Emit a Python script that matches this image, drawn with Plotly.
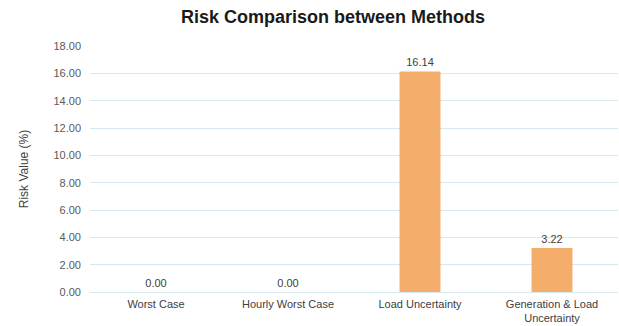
import plotly.graph_objects as go

categories = ["Worst Case", "Hourly Worst Case", "Load Uncertainty", "Generation & Load<br>Uncertainty"]
risk_values = [0.00, 0.00, 16.14, 3.22]
y_ticks = [0, 2, 4, 6, 8, 10, 12, 14, 16, 18]

font_family = "Liberation Sans, Arial, sans-serif"
grid_color = "#D6E8EF"

fig = go.Figure(
    go.Bar(
        x=categories,
        y=risk_values,
        marker=dict(color="#F5AD6C", line=dict(width=0)),
        text=[f"{v:.2f}" for v in risk_values],
        textposition="outside",
        textfont=dict(size=11, color="#404040", family=font_family),
        cliponaxis=False,
    )
)

fig.update_layout(
    width=619,
    height=326,
    margin=dict(l=90, r=1, t=46, b=34),
    paper_bgcolor="white",
    plot_bgcolor="white",
    bargap=0.69,
    showlegend=False,
    title=dict(
        text="<b>Risk Comparison between Methods</b>",
        x=0.538,
        xanchor="center",
        y=0.948,
        yanchor="middle",
        font=dict(size=18, color="#1a1a1a", family=font_family),
    ),
    font=dict(family=font_family),
)

fig.update_yaxes(
    range=[0, 18],
    tickvals=y_ticks,
    ticktext=[f"{v:.2f}" for v in y_ticks],
    tickfont=dict(size=11, color="#595959"),
    ticklabelstandoff=8,
    showgrid=True,
    gridcolor=grid_color,
    gridwidth=1,
    zeroline=True,
    zerolinecolor=grid_color,
    zerolinewidth=1,
    showline=False,
    title=dict(text="Risk Value (%)", font=dict(size=12, color="#404040"), standoff=22),
)

fig.update_xaxes(
    tickfont=dict(size=11, color="#404040"),
    ticklabelstandoff=4,
    showline=False,
    showgrid=False,
    ticks="",
)

fig.write_html("out.html")
